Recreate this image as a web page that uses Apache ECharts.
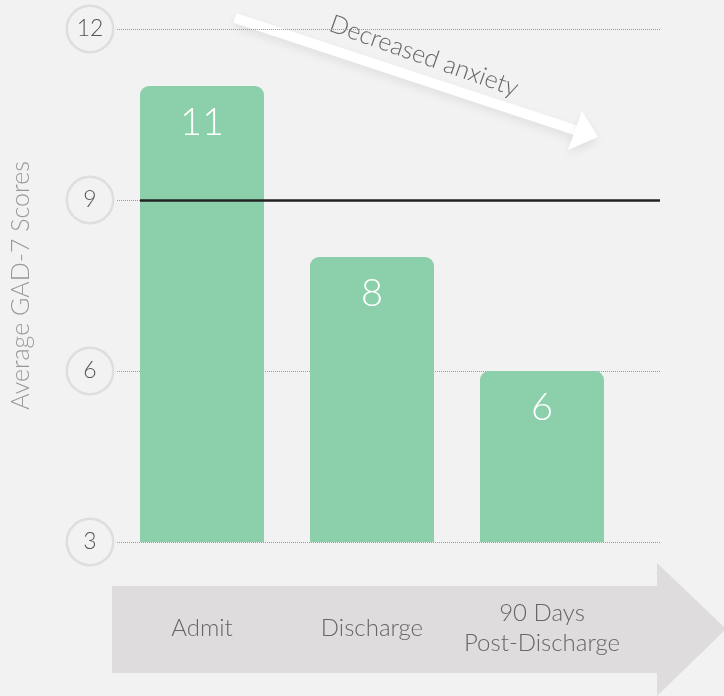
<!DOCTYPE html>
<html>
<head>
<meta charset="utf-8">
<script src="https://cdn.jsdelivr.net/npm/echarts@6/dist/echarts.min.js"></script>
<style>
  html, body { margin: 0; padding: 0; background: #f2f2f2; }
  #chart { width: 724px; height: 696px; }
</style>
</head>
<body>
<div id="chart"></div>
<script>
// data
var categories = ['Admit', 'Discharge', '90 Days\nPost-Discharge'];
var scores = [11, 8, 6];
var yTicks = [3, 6, 9, 12];
var referenceScore = 9;

var font = 'Lato, "Open Sans", sans-serif';
var chart = echarts.init(document.getElementById('chart'));

var option = {
    backgroundColor: '#f2f2f2',
    animation: false,
    grid: [
        { left: 117, width: 510, top: 29, bottom: 154, outerBoundsMode: 'none', containLabel: false },
        { left: 117, right: 64, top: 29, bottom: 154, outerBoundsMode: 'none', containLabel: false }
    ],
    xAxis: [
        {
            type: 'category',
            gridIndex: 0,
            data: categories,
            axisLine: { show: false },
            axisTick: { show: false },
            axisLabel: {
                interval: 0,
                margin: 86,
                verticalAlign: 'middle',
                lineHeight: 30,
                fontSize: 24,
                fontFamily: font,
                fontWeight: 300,
                color: '#666'
            }
        },
        { type: 'value', gridIndex: 1, min: 0, max: 543, show: false }
    ],
    yAxis: [
        {
            type: 'value',
            gridIndex: 0,
            min: yTicks[0],
            max: yTicks[yTicks.length - 1],
            interval: 3,
            name: 'Average GAD-7 Scores',
            nameLocation: 'middle',
            nameGap: 84,
            nameTextStyle: { fontSize: 25, color: '#999', fontFamily: font, fontWeight: 300 },
            axisLine: { show: false },
            axisTick: { show: false },
            splitLine: { show: false },
            axisLabel: {
                margin: 5,
                formatter: function (v) { return '{c|' + v + '}'; },
                rich: {
                    c: {
                        width: 44, height: 44, lineHeight: 44,
                        align: 'center',
                        borderColor: '#dedede', borderWidth: 2.5, borderRadius: 24,
                        backgroundColor: '#f2f2f2',
                        fontSize: 23, color: '#555', fontFamily: font, fontWeight: 300
                    }
                }
            }
        },
        {
            type: 'value',
            gridIndex: 1,
            min: yTicks[0],
            max: yTicks[yTicks.length - 1],
            interval: 3,
            axisLine: { show: false },
            axisTick: { show: false },
            axisLabel: { show: false },
            splitLine: { lineStyle: { type: [1, 1], color: '#999', width: 1 } }
        }
    ],
    series: [
        {
            type: 'bar',
            xAxisIndex: 0,
            yAxisIndex: 0,
            data: scores,
            barWidth: 124,
            itemStyle: { color: '#8bcfab', borderRadius: [9, 9, 0, 0] },
            label: {
                show: true,
                position: 'insideTop',
                distance: 18,
                fontSize: 38,
                color: '#fff',
                fontFamily: font,
                fontWeight: 300
            }
        },
        {
            type: 'line',
            xAxisIndex: 1,
            yAxisIndex: 1,
            data: [],
            z: 5,
            markLine: {
                silent: true,
                symbol: 'none',
                label: { show: false },
                lineStyle: { color: '#222', width: 2.5, type: 'solid' },
                data: [[{ coord: [23, referenceScore] }, { coord: [543, referenceScore] }]]
            }
        }
    ],
    graphic: [
        {
            type: 'polygon',
            z: -1,
            shape: { points: [[112, 586], [657, 586], [657, 563], [726, 629], [657, 696], [657, 673], [112, 673]] },
            style: { fill: '#dedcdc' }
        },
        {
            type: 'group',
            z: 10,
            children: [
                {
                    type: 'line',
                    shape: { x1: 235, y1: 18, x2: 578, y2: 131 },
                    style: { stroke: '#fff', lineWidth: 10, shadowBlur: 10, shadowColor: 'rgba(0,0,0,0.08)', shadowOffsetY: 4 }
                },
                {
                    type: 'polygon',
                    shape: { points: [[582, 111], [598, 137], [568, 150]] },
                    style: { fill: '#fff', shadowBlur: 10, shadowColor: 'rgba(0,0,0,0.08)', shadowOffsetY: 4 }
                },
                {
                    type: 'text',
                    x: 424,
                    y: 56,
                    rotation: -0.34,
                    style: {
                        text: 'Decreased anxiety',
                        fontSize: 25,
                        fontFamily: font,
                        fontWeight: 300,
                        fill: '#666',
                        align: 'center',
                        verticalAlign: 'middle'
                    }
                }
            ]
        }
    ]
};

chart.setOption(option);
</script>
</body>
</html>
